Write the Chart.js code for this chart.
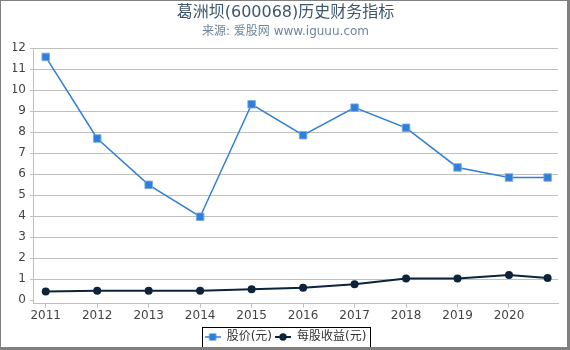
<!DOCTYPE html>
<html>
<head>
<meta charset="utf-8">
<title>葛洲坝(600068)历史财务指标</title>
<script src="https://cdn.jsdelivr.net/npm/chart.js@4"></script>
<style>
  body { margin: 0; background: #fff; }
  #box {
    width: 566px; height: 346px;
    border-style: solid; border-color: #808080;
    border-width: 1px 3px 3px 1px;
    overflow: hidden;
  }
</style>
</head>
<body>
<div id="box"><canvas id="chart" width="566" height="346"></canvas></div>
<script>
// data
const years = [2011, 2012, 2013, 2014, 2015, 2016, 2017, 2018, 2019, 2020, 2020.75];
const price = [11.59, 7.70, 5.49, 3.97, 9.33, 7.86, 9.17, 8.21, 6.32, 5.84, 5.84];
const eps = [0.40, 0.44, 0.44, 0.44, 0.51, 0.59, 0.75, 1.03, 1.03, 1.19, 1.05];
const seriesNames = ['股价(元)', '每股收益(元)'];
const yearTicks = [2011, 2012, 2013, 2014, 2015, 2016, 2017, 2018, 2019, 2020];
const valueTicks = [0, 1, 2, 3, 4, 5, 6, 7, 8, 9, 10, 11, 12];

const blue = '#2f7ed8';
const navy = '#0d233a';
const FONT = "'DejaVu Sans', 'Noto Sans CJK SC', sans-serif";

// small legend icon: line with the marker in the middle
function icone(cor, tipo, larg) {
  const c = document.createElement('canvas');
  c.width = 16; c.height = 10;
  const g = c.getContext('2d');
  g.strokeStyle = cor; g.lineWidth = larg;
  g.beginPath(); g.moveTo(0, 5); g.lineTo(16, 5); g.stroke();
  g.fillStyle = cor;
  if (tipo === 'rect') {
    g.fillRect(4.5, 1.5, 7, 7);
  } else {
    g.beginPath(); g.arc(8, 5, 3.7, 0, Math.PI * 2); g.fill();
  }
  return c;
}
const icones = [icone(blue, 'rect', 1.5), icone(navy, 'circle', 2)];

function pares(xs, ys) {
  return xs.map((x, i) => ({ x: x, y: ys[i] }));
}

// border around the legend
const moldura = {
  id: 'moldura',
  afterDraw(chart) {
    const hb = chart.legend.legendHitBoxes;
    if (!hb || !hb.length) return;
    const ctx = chart.ctx;
    const esq = hb[0].left - 2.5;
    const dir = hb[hb.length - 1].left + hb[hb.length - 1].width + 4;
    const topo = hb[0].top - 3.7;
    ctx.save();
    ctx.strokeStyle = '#000';
    ctx.lineWidth = 1;
    ctx.strokeRect(Math.round(esq) + 0.5, Math.round(topo) + 0.5, Math.round(dir - esq), 40);
    ctx.restore();
  }
};

const ctx = document.getElementById('chart').getContext('2d');
new Chart(ctx, {
  type: 'line',
  data: {
    datasets: [{
      label: seriesNames[0],
      data: pares(years, price),
      borderColor: blue,
      backgroundColor: blue,
      borderWidth: 1.5,
      pointStyle: 'rect',
      pointRadius: 5.3,
      pointBorderWidth: 1,
      pointBorderColor: 'rgba(120,170,230,0.9)',
      tension: 0
    }, {
      label: seriesNames[1],
      data: pares(years, eps),
      borderColor: navy,
      backgroundColor: navy,
      borderWidth: 2,
      pointStyle: 'circle',
      pointRadius: 4,
      pointBorderWidth: 0,
      tension: 0
    }]
  },
  options: {
    responsive: false,
    animation: false,
    devicePixelRatio: 1,
    layout: { padding: { left: 12, right: 9, top: 0, bottom: -6 } },
    plugins: {
      title: {
        display: true,
        text: '葛洲坝(600068)历史财务指标',
        color: '#3E576F',
        font: { family: FONT, size: 16, weight: 'normal' },
        padding: { top: 1.8, bottom: 2.2 }
      },
      subtitle: {
        display: true,
        text: '来源: 爱股网 www.iguuu.com',
        color: '#6D869F',
        font: { family: FONT, size: 12, weight: 'normal' },
        padding: { top: 0, bottom: 9.7 }
      },
      legend: {
        position: 'bottom',
        labels: {
          usePointStyle: true,
          pointStyleWidth: 16,
          padding: 3,
          color: '#333',
          font: { family: FONT, size: 12 },
          generateLabels(chart) {
            return chart.data.datasets.map((ds, i) => ({
              text: ds.label,
              pointStyle: icones[i],
              datasetIndex: i,
              fontColor: '#333',
              hidden: false
            }));
          }
        }
      },
      tooltip: { enabled: false }
    },
    scales: {
      x: {
        type: 'linear',
        min: 2010.753,
        max: 2020.952,
        afterFit(s) { s.height = 24.3; },
        afterBuildTicks(s) {
          s.ticks = yearTicks.map(v => ({ value: v }));
        },
        ticks: {
          padding: 1,
          color: '#444',
          font: { family: FONT, size: 12 },
          callback: v => String(v)
        },
        grid: {
          drawOnChartArea: false,
          drawTicks: true,
          tickLength: 4,
          color: '#C0C0C0'
        },
        border: { color: '#C0C0C0', width: 1 }
      },
      y: {
        min: -0.176,
        max: 12,
        afterFit(s) { s.width = 20; },
        afterBuildTicks(s) {
          s.ticks = valueTicks.map(v => ({ value: v }));
        },
        ticks: {
          padding: 4,
          color: '#444',
          font: { family: FONT, size: 12 }
        },
        grid: {
          tickLength: 3,
          color: c => (c.tick && c.tick.value === 0 ? 'rgba(0,0,0,0)' : '#C0C0C0'),
          tickColor: '#C0C0C0'
        },
        border: { color: '#C0C0C0', width: 1 }
      }
    }
  },
  plugins: [moldura]
});
</script>
</body>
</html>
